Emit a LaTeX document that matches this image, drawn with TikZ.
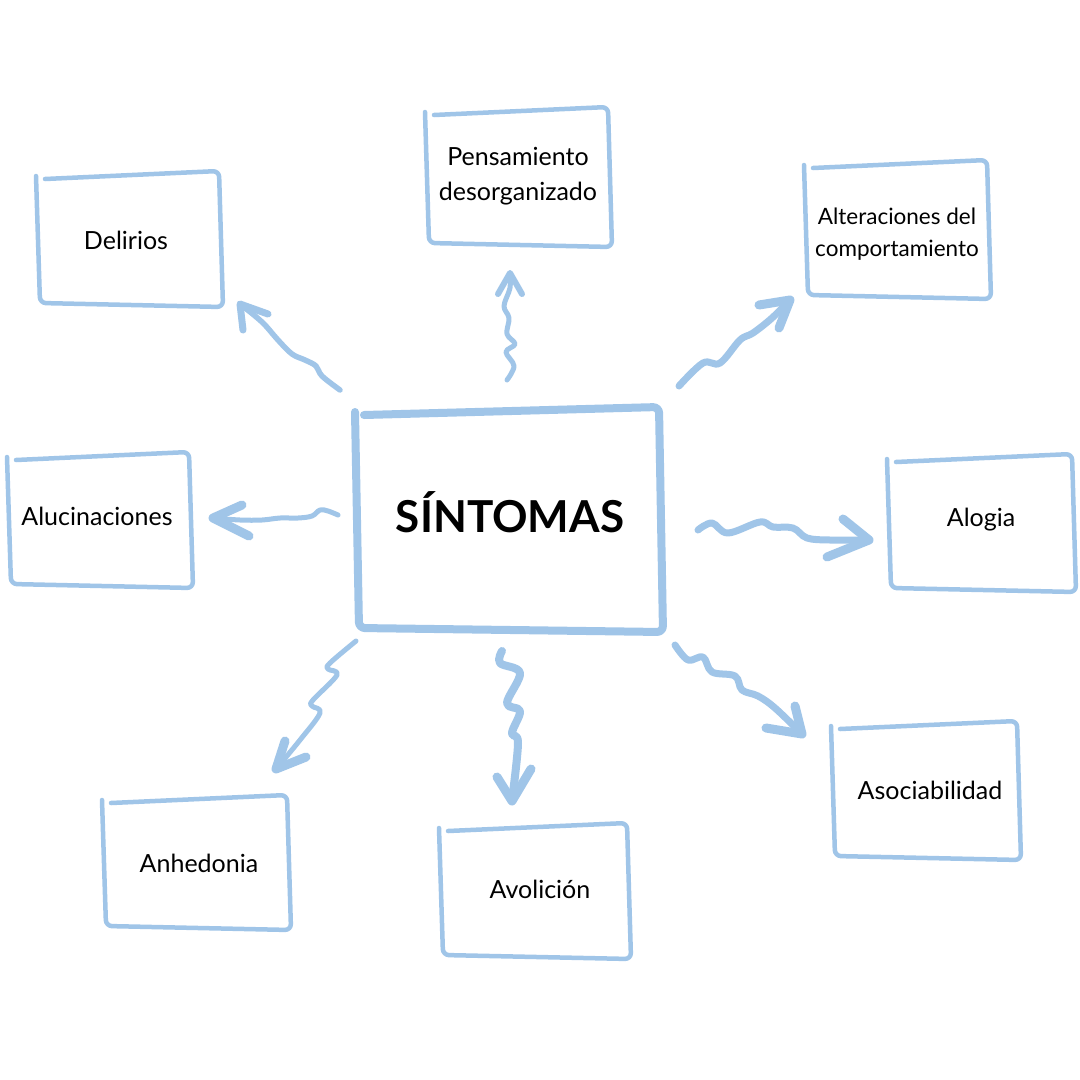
\documentclass[tikz,border=0pt]{standalone}
\usepackage{fontspec}
\setmainfont{Lato}
\definecolor{sky}{RGB}{160,197,232}
\tikzset{
  boxline/.style={draw=sky, line cap=round, line join=round, rounded corners=6pt},
  label/.style={font=\fontsize{25}{35}\selectfont, align=center, text=black, inner sep=0pt},
  wave/.style={draw=sky, line width=7pt, line cap=round, line join=round},
  barb/.style={draw=sky, line width=9pt, line cap=round, line join=round},
}
\newcommand{\sketchbox}[5]{%
  \draw[boxline, line width=#5] (#1+8,#2+5) -- (#3-3,#2-3) -- (#3+1,#4+2) -- (#1+3,#4-2) -- (#1-1,#2+2);}
\begin{document}
\begin{tikzpicture}[x=1pt,y=-1pt]
\useasboundingbox[fill=white] (0,0) rectangle (1080,1080);
% boxes
\sketchbox{356}{410}{662}{630}{8pt}
\sketchbox{426}{110}{611}{245}{4.5pt}
\sketchbox{37}{174}{222}{305}{4.5pt}
\sketchbox{805}{163}{990}{297}{4.5pt}
\sketchbox{8}{455}{192}{586}{4.5pt}
\sketchbox{888}{457}{1075}{590}{4.5pt}
\sketchbox{103}{798}{290}{928}{4.5pt}
\sketchbox{440}{826}{630}{957}{4.5pt}
\sketchbox{832}{724}{1020}{858}{4.5pt}
% labels
\node[label, font=\bfseries\fontsize{44}{50}\selectfont] (sint) at (510,512) {SÍNTOMAS};
\node[label] (pens) at (518,176) {Pensamiento\\desorganizado};
\node[label] (deli) at (126,240) {Delirios};
\node[label, font=\fontsize{22.5}{32}\selectfont] (alte) at (897,234) {Alteraciones del\\comportamiento};
\node[label] (aluc) at (97,516) {Alucinaciones};
\node[label] (alog) at (981,520) {Alogia};
\node[label] (anhe) at (199,863) {Anhedonia};
\node[label] (avol) at (540,889) {Avolición};
\node[label] (asoc) at (930,790) {Asociabilidad};
% arrow end points
\coordinate (dS) at (340,390); \coordinate (dT) at (240,304);
\coordinate (pS) at (507,380); \coordinate (pT) at (510,273);
\coordinate (tS) at (679,386); \coordinate (tT) at (790,300);
\coordinate (lS) at (338,515); \coordinate (lT) at (213,518);
\coordinate (gS) at (698,530); \coordinate (gT) at (869,540);
\coordinate (hS) at (356,641); \coordinate (hT) at (276,769);
\coordinate (vS) at (502,651); \coordinate (vT) at (512,801);
\coordinate (aS) at (675,645); \coordinate (aT) at (802,734);
% bodies
\draw[wave, line width=5.5pt] plot[smooth, tension=0.6] coordinates {(dS) (322,376) (316,366) (305,360) (292,354) (278,340) (262,322) (dT)};
\draw[wave, line width=5pt] plot[smooth, tension=0.6] coordinates {(pS) (514,366) (506,352) (515,344) (507,334) (509,318) (504,306) (510,288) (pT)};
\draw[wave] plot[smooth, tension=0.6] coordinates {(tS) (703,363) (720,363) (740,340) (753,333) (772,318) (tT)};
\draw[wave, line width=5pt] plot[smooth, tension=0.6] coordinates {(lS) (328,511) (320,510) (312,516) (298,518) (280,518) (262,520) (240,520) (lT)};
\draw[wave] plot[smooth, tension=0.6] coordinates {(gS) (712,523) (728,533) (760,522) (773,527) (793,528) (807,538) (830,540) (gT)};
\draw[wave, line width=5pt] plot[smooth, tension=0.6] coordinates {(hS) (330,663) (328,669) (337,675) (313,700) (312,706) (320,713) (300,740) (hT)};
\draw[wave, line width=8pt] plot[smooth, tension=0.6] coordinates {(vS) (500,663) (520,673) (507,703) (520,711) (512,733) (518,743) (vT)};
\draw[wave] plot[smooth, tension=0.6] coordinates {(aS) (688,660) (703,657) (712,672) (735,676) (742,690) (758,696) (775,708) (aT)};
% heads
\draw[barb, line width=7pt] (243,330) -- (dT) -- (268,314);
\draw[barb, line width=6pt] (498,294) -- (pT) -- (522,294);
\draw[barb] (759,305) -- (tT) -- (779,328);
\draw[barb] (242,505) -- (lT) -- (249,536);
\draw[barb] (843,519) -- (gT) -- (827,557);
\draw[barb] (285,741) -- (hT) -- (306,757);
\draw[barb] (497,777) -- (vT) -- (531,769);
\draw[barb] (795,706) -- (aT) -- (766,728);
\end{tikzpicture}
\end{document}
